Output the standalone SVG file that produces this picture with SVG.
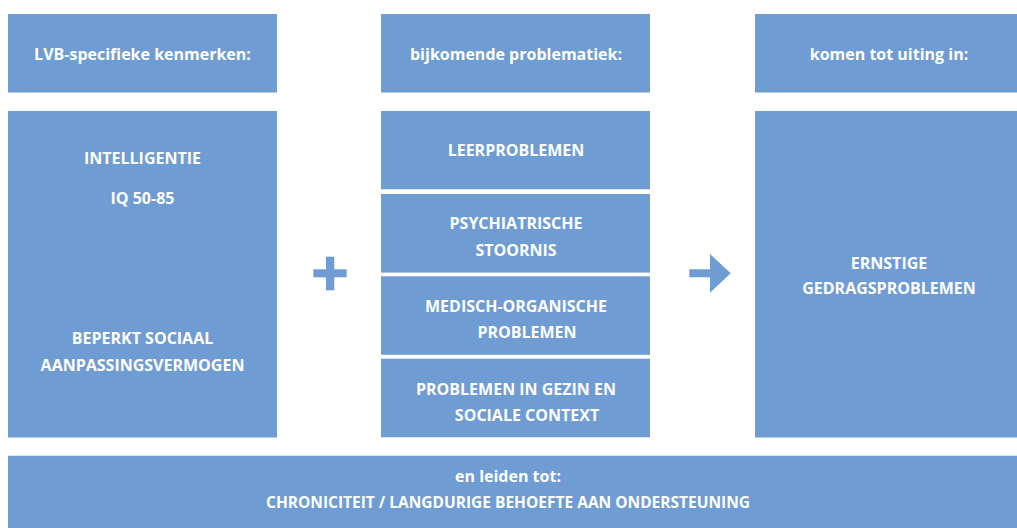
<svg xmlns="http://www.w3.org/2000/svg" width="1017" height="528" viewBox="0 0 1017 528">
<style>
.box{fill:#6f9cd3}
.t{font-family:"Open Sans","Noto Sans","Liberation Sans",sans-serif;font-weight:700;font-size:16px;fill:#ffffff;text-anchor:middle}
.h{font-family:"Open Sans","Noto Sans","Liberation Sans",sans-serif;font-weight:700;font-size:16px;fill:#ffffff;text-anchor:middle}
.sym{fill:#6f9cd3}
</style>
<rect width="1017" height="528" fill="#ffffff"/>
<g id="header-left"><rect class="box" x="8" y="14" width="269" height="78.5"/><text class="h" x="142.5" y="60">LVB-specifieke kenmerken:</text></g>
<g id="header-middle"><rect class="box" x="381" y="14" width="269" height="78.5"/><text class="h" x="516" y="60">bijkomende problematiek:</text></g>
<g id="header-right"><rect class="box" x="755" y="14" width="269" height="78.5"/><text class="h" x="889" y="60">komen tot uiting in:</text></g>
<g id="lvb-kenmerken"><rect class="box" x="8" y="111" width="269" height="326.5"/>
<text class="t" x="142.5" y="164">INTELLIGENTIE</text>
<text class="t" x="142.5" y="204">IQ 50-85</text>
<text class="t" x="142.5" y="344">BEPERKT SOCIAAL</text>
<text class="t" x="142.5" y="371">AANPASSINGSVERMOGEN</text></g>
<g id="leerproblemen"><rect class="box" x="381" y="111" width="269" height="78.3"/><text class="t" x="516" y="156">LEERPROBLEMEN</text></g>
<g id="psychiatrische-stoornis"><rect class="box" x="381" y="194" width="269" height="78.6"/><text class="t" x="516" y="229">PSYCHIATRISCHE</text><text class="t" x="516" y="256">STOORNIS</text></g>
<g id="medisch-organische"><rect class="box" x="381" y="276.3" width="269" height="78.5"/><text class="t" x="516" y="311.5">MEDISCH-ORGANISCHE</text><text class="t" x="527" y="338">PROBLEMEN</text></g>
<g id="gezin-context"><rect class="box" x="381" y="358.7" width="269" height="78.6"/><text class="t" x="516" y="395">PROBLEMEN IN GEZIN EN</text><text class="t" x="527" y="420.5">SOCIALE CONTEXT</text></g>
<g id="gedragsproblemen"><rect class="box" x="755" y="111" width="269" height="326.5"/><text class="t" x="889" y="268.5">ERNSTIGE</text><text class="t" x="889" y="294">GEDRAGSPROBLEMEN</text></g>
<g id="gevolg"><rect class="box" x="8" y="455.7" width="1016" height="72.3"/><text class="h" x="508" y="482.3">en leiden tot:</text><text class="t" x="508" y="508" style="font-size:15.5px">CHRONICITEIT / LANGDURIGE BEHOEFTE AAN ONDERSTEUNING</text></g>
<g id="plus"><rect class="sym" x="313.3" y="269.3" width="33.4" height="8"/><rect class="sym" x="326" y="256.7" width="8.3" height="33.6"/></g>
<g id="connectors"><path class="sym" d="M689.3 269.3 H710 V254 L730.7 273.3 L710 292.7 V277.3 H689.3 Z"/></g>
</svg>
